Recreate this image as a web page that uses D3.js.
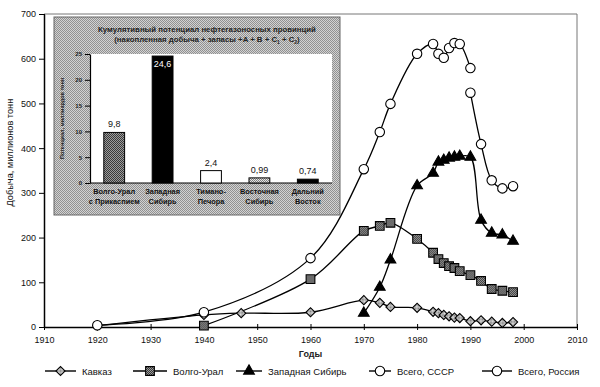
<!DOCTYPE html>
<html>
<head>
<meta charset="utf-8">
<script src="https://cdn.jsdelivr.net/npm/d3@7"></script>
<style>
  body { margin: 0; background: #fff; }
  svg { font-family: "Liberation Sans", Arial, sans-serif; }
</style>
</head>
<body>
<svg id="chart" width="600" height="387"></svg>
<script>
// main chart data (million tonnes)
const kavkazYears  = [1920, 1940, 1947, 1960, 1970, 1973, 1975, 1980, 1983, 1984, 1985, 1986, 1987, 1988, 1990, 1992, 1994, 1996, 1998];
const kavkazValues = [3, 27, 31, 33, 60, 54, 45, 43, 34, 31, 27, 24, 21, 20, 13, 15, 12, 9, 11];

const volgaYears  = [1940, 1960, 1970, 1973, 1975, 1980, 1983, 1984, 1985, 1986, 1987, 1988, 1990, 1992, 1994, 1996, 1998];
const volgaValues = [3, 107, 215, 226, 233, 197, 166, 152, 143, 136, 132, 125, 116, 103, 85, 81, 78];

const wsibYears  = [1970, 1973, 1975, 1980, 1983, 1984, 1985, 1986, 1987, 1988, 1990, 1992, 1994, 1996, 1998];
const wsibValues = [31, 89, 150, 316, 344, 369, 373, 378, 380, 382, 380, 239, 210, 206, 192];

const ussrYears  = [1920, 1940, 1960, 1970, 1973, 1975, 1980, 1983, 1984, 1985, 1986, 1987, 1988, 1990];
const ussrValues = [4, 33, 154, 353, 436, 499, 611, 633, 611, 602, 624, 635, 633, 579];

const russiaYears  = [1990, 1992, 1994, 1996, 1998];
const russiaValues = [524, 409, 328, 310, 315];

const seriesNames = ["Кавказ", "Волго-Урал", "Западная Сибирь", "Всего, СССР", "Всего, Россия"];

// inset data (billion tonnes)
const regionLines = [["Волго-Урал", "с Прикаспием"], ["Западная", "Сибирь"], ["Тимано-", "Печора"], ["Восточная", "Сибирь"], ["Дальний", "Восток"]];
const regionValues = [9.8, 24.6, 2.4, 0.99, 0.74];
const regionLabels = ["9,8", "24,6", "2,4", "0,99", "0,74"];

const yTicks = [0, 100, 200, 300, 400, 500, 600, 700];
const xTicks = [1910, 1920, 1930, 1940, 1950, 1960, 1970, 1980, 1990, 2000, 2010];
const insetTicks = [0, 5, 10, 15, 20, 25];

const svg = d3.select("#chart");

// halftone-ish patterns
const defs = svg.append("defs");
function checker(id, a, b) {
    let p = defs.append("pattern").attr("id", id)
        .attr("width", 2).attr("height", 2).attr("patternUnits", "userSpaceOnUse");
    p.append("rect").attr("width", 2).attr("height", 2).attr("fill", b);
    p.append("rect").attr("width", 1).attr("height", 1).attr("fill", a);
    p.append("rect").attr("x", 1).attr("y", 1).attr("width", 1).attr("height", 1).attr("fill", a);
}
checker("bgPat", "#919191", "#d2d2d2");
checker("darkPat", "#3a3a3a", "#9c9c9c");
checker("lightPat", "#808080", "#e6e6e6");

const x = d3.scaleLinear().domain([1910, 2010]).range([44, 577]);
const y = d3.scaleLinear().domain([0, 700]).range([327, 14]);

// frame (top + right)
svg.append("path")
    .attr("d", `M${x(1910)},${y(700)}H${x(2010)}V${y(0)}`)
    .attr("fill", "none").attr("stroke", "#777").attr("stroke-width", 1);

// y axis
let yAxis = svg.append("g").attr("transform", `translate(${x(1910)},0)`)
    .call(d3.axisLeft(y).tickValues(yTicks).tickSize(5).tickSizeOuter(0));
yAxis.select(".domain").attr("stroke-width", 1.5);
yAxis.selectAll("text").attr("font-size", 9).attr("fill", "#111").attr("x", -8);
yAxis.selectAll(".tick line").attr("x2", -5).attr("x1", 1);

// x axis
let xAxis = svg.append("g").attr("transform", `translate(0,${y(0)})`)
    .call(d3.axisBottom(x).tickValues(xTicks).tickFormat(d3.format("d")).tickSize(3).tickSizeOuter(0));
xAxis.select(".domain").attr("stroke-width", 1.5);
xAxis.selectAll(".tick line").attr("y1", -3).attr("y2", 3);
xAxis.selectAll("text").attr("font-size", 9).attr("fill", "#111").attr("y", 10);

svg.append("text").attr("x", x(1960)).attr("y", 357)
    .attr("text-anchor", "middle").attr("font-size", 9).attr("font-weight", "bold").attr("fill", "#222")
    .text("Годы");

svg.append("text")
    .attr("transform", `translate(13,${y(390)}) rotate(-90)`)
    .attr("text-anchor", "middle").attr("font-size", 9.2).attr("fill", "#111")
    .text("Добыча, миллионов тонн");

// series
const curve = d3.curveCatmullRom.alpha(0.5);
const line = d3.line().x(d => x(d[0])).y(d => y(d[1])).curve(curve);

const markers = [
    { type: d3.symbolSquare, size: 42, rot: 45, fill: "url(#lightPat)" },
    { type: d3.symbolSquare, size: 76, rot: 0, fill: "url(#darkPat)" },
    { type: d3.symbolTriangle, size: 50, rot: 0, fill: "#000" },
    { type: d3.symbolCircle, size: 70, rot: 0, fill: "#fff" },
    { type: d3.symbolCircle, size: 70, rot: 0, fill: "#fff" }
];

const allSeries = [
    d3.zip(kavkazYears, kavkazValues),
    d3.zip(volgaYears, volgaValues),
    d3.zip(wsibYears, wsibValues),
    d3.zip(ussrYears, ussrValues),
    d3.zip(russiaYears, russiaValues)
];

allSeries.forEach((pts, i) => {
    svg.append("path").datum(pts).attr("d", line)
        .attr("fill", "none").attr("stroke", "#000").attr("stroke-width", 1.3);
});
allSeries.forEach((pts, i) => {
    let m = markers[i];
    svg.append("g").selectAll("path").data(pts).join("path")
        .attr("d", d3.symbol().type(m.type).size(m.size))
        .attr("transform", d => `translate(${x(d[0])},${y(d[1])}) rotate(${m.rot})`)
        .attr("fill", m.fill).attr("stroke", "#000").attr("stroke-width", 1.1);
});

// legend
const legendX = [45, 133, 236, 369, 482];
const legendW = [31, 34, 26, 22, 30];
let legend = svg.append("g").attr("transform", "translate(0,371)");
seriesNames.forEach((name, i) => {
    let g = legend.append("g").attr("transform", `translate(${legendX[i]},0)`);
    g.append("line").attr("x1", 0).attr("x2", legendW[i]).attr("stroke", "#000").attr("stroke-width", 1.4);
    let m = markers[i];
    g.append("path").attr("d", d3.symbol().type(m.type).size(m.size))
        .attr("transform", `translate(${legendW[i] / 2},0) rotate(${m.rot})`)
        .attr("fill", m.fill).attr("stroke", "#000").attr("stroke-width", 1.1);
    g.append("text").attr("x", legendW[i] + 6).attr("y", 3.5)
        .attr("font-size", 9.5).attr("fill", "#111").text(name);
});

// inset
let inset = svg.append("g");
inset.append("rect").attr("x", 54).attr("y", 17).attr("width", 286).attr("height", 198)
    .attr("fill", "url(#bgPat)").attr("stroke", "#666").attr("stroke-width", 1);

const xb = d3.scaleBand().domain(d3.range(regionValues.length)).range([90, 332]);
const yb = d3.scaleLinear().domain([0, 25]).range([183, 54]);

inset.append("rect").attr("x", 90).attr("y", yb(25)).attr("width", 242).attr("height", yb(0) - yb(25))
    .attr("fill", "#fff");

inset.append("text").attr("x", 207).attr("y", 32).attr("text-anchor", "middle")
    .attr("font-size", 7.8).attr("font-weight", "bold").attr("fill", "#222")
    .text("Кумулятивный потенциал нефтегазоносных провинций");
let sub = inset.append("text").attr("x", 207).attr("y", 42).attr("text-anchor", "middle")
    .attr("font-size", 7.8).attr("font-weight", "bold").attr("fill", "#222");
sub.append("tspan").text("(накопленная добыча + запасы +A + B + C");
sub.append("tspan").attr("font-size", 5).attr("dy", 2).text("1");
sub.append("tspan").attr("dy", -2).text(" + C");
sub.append("tspan").attr("font-size", 5).attr("dy", 2).text("2");
sub.append("tspan").attr("dy", -2).text(")");

let ib = inset.append("g").attr("transform", "translate(90,0)")
    .call(d3.axisLeft(yb).tickValues(insetTicks).tickSize(5).tickSizeOuter(0));
ib.select(".domain").attr("stroke-width", 1.2);
ib.selectAll("text").attr("font-size", 6).attr("font-weight", "bold").attr("fill", "#222").attr("x", -8);

inset.append("line").attr("x1", 90).attr("x2", 332).attr("y1", yb(0)).attr("y2", yb(0))
    .attr("stroke", "#000").attr("stroke-width", 1.2);

inset.append("text")
    .attr("transform", `translate(64,${yb(12.5)}) rotate(-90)`)
    .attr("text-anchor", "middle").attr("font-size", 5.5).attr("font-weight", "bold").attr("fill", "#222")
    .text("Потенциал, миллиардов тонн");

const barFills = ["url(#darkPat)", "#000", "#fff", "url(#lightPat)", "#000"];
const barW = xb.bandwidth() * 0.43;

inset.append("g").selectAll("rect").data(regionValues).join("rect")
    .attr("x", (d, i) => xb(i) + (xb.bandwidth() - barW) / 2)
    .attr("y", d => yb(d))
    .attr("width", barW)
    .attr("height", d => yb(0) - yb(d))
    .attr("fill", (d, i) => barFills[i])
    .attr("stroke", "#000").attr("stroke-width", 1);

inset.append("g").selectAll("text").data(regionValues).join("text")
    .attr("x", (d, i) => xb(i) + xb.bandwidth() / 2)
    .attr("y", (d, i) => i === 1 ? yb(d) + 11 : yb(d) - 5)
    .attr("text-anchor", "middle").attr("font-size", 9)
    .attr("fill", (d, i) => i === 1 ? "#fff" : "#111")
    .text((d, i) => regionLabels[i]);

regionLines.forEach((lines, i) => {
    let t = inset.append("text").attr("x", xb(i) + xb.bandwidth() / 2).attr("y", 194)
        .attr("text-anchor", "middle").attr("font-size", 7.4).attr("font-weight", "bold").attr("fill", "#111");
    t.append("tspan").text(lines[0]);
    t.append("tspan").attr("x", xb(i) + xb.bandwidth() / 2).attr("dy", 10).text(lines[1]);
});
</script>
</body>
</html>
